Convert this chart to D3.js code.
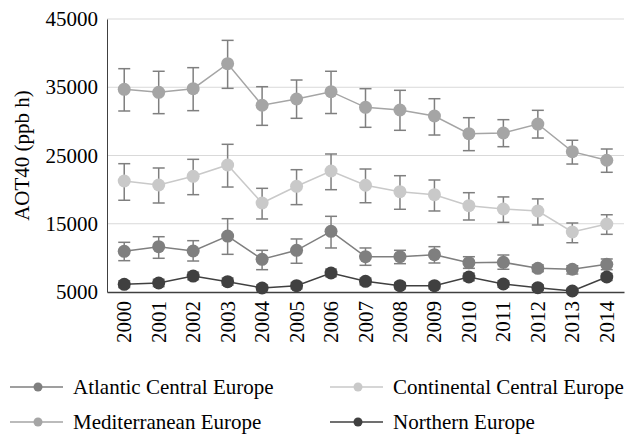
<!DOCTYPE html>
<html>
<head>
<meta charset="utf-8">
<script src="https://cdn.jsdelivr.net/npm/d3@7"></script>
</head>
<body style="margin:0">
<svg id="chart" width="630" height="435"></svg>
<script>
// years on the x axis
const years = ['2000','2001','2002','2003','2004','2005','2006','2007','2008','2009','2010','2011','2012','2013','2014']
const yTicks = [5000, 15000, 25000, 35000, 45000]

// series values (mean, upper bar, lower bar)
const atlantic = [10960, 11640, 11010, 13200, 9790, 11110, 13890, 10170, 10170, 10470, 9300, 9350, 8470, 8330, 9060]
const atlanticHi = [12280, 13100, 12520, 15740, 11110, 12770, 16090, 11450, 11110, 11640, 10170, 10420, 8960, 8850, 9840]
const atlanticLo = [9590, 9940, 9540, 10520, 8270, 9210, 11450, 8910, 9150, 9250, 8470, 8330, 7980, 7640, 8270]

const continental = [21260, 20680, 21950, 23610, 18040, 20490, 22730, 20640, 19700, 19260, 17650, 17160, 16870, 13790, 14960]
const continentalHi = [23800, 23170, 24440, 26640, 20190, 22920, 25220, 23020, 22040, 21410, 19550, 18930, 18640, 15110, 16320]
const continentalLo = [18440, 18040, 19260, 20380, 15700, 17800, 19990, 18080, 17120, 16870, 15550, 15210, 14820, 12220, 13450]

const mediterranean = [34700, 34260, 34790, 38450, 32360, 33280, 34350, 32060, 31670, 30790, 28200, 28300, 29610, 25560, 24300]
const mediterraneanHi = [37720, 37340, 37870, 41870, 35080, 36060, 37340, 34790, 34550, 33320, 30540, 30250, 31620, 27230, 25950]
const mediterraneanLo = [31520, 31130, 31570, 34840, 29420, 30450, 31150, 29130, 28690, 28000, 25710, 26290, 27560, 23750, 22540]

const northern = [6130, 6320, 7340, 6510, 5590, 5930, 7780, 6560, 5930, 5930, 7200, 6170, 5630, 5150, 7200]
const northernHi = [6650, 6850, 7900, 7050, 6050, 6400, 8350, 7050, 6400, 6400, 7750, 6650, 6050, 5550, 7700]
const northernLo = [5650, 5800, 6800, 6000, 5150, 5450, 7250, 6050, 5450, 5450, 6650, 5700, 5200, 4750, 6700]

const seriesNames = ['Atlantic Central Europe', 'Continental Central Europe', 'Mediterranean Europe', 'Northern Europe']

const series = [
  { name: seriesNames[0], values: atlantic, hi: atlanticHi, lo: atlanticLo, color: '#7f7f7f' },
  { name: seriesNames[1], values: continental, hi: continentalHi, lo: continentalLo, color: '#c9c9c9' },
  { name: seriesNames[2], values: mediterranean, hi: mediterraneanHi, lo: mediterraneanLo, color: '#a5a5a5' },
  { name: seriesNames[3], values: northern, hi: northernHi, lo: northernLo, color: '#404040' }
]

const margin = { left: 107, right: 6, top: 19, bottom: 143 }
const width = 630
const height = 435

const svg = d3.select('#chart')

const x = d3.scaleBand().domain(years).range([margin.left, width - margin.right])
const y = d3.scaleLinear().domain([5000, 45000]).range([height - margin.bottom, margin.top])
const cx = d => x(d) + x.bandwidth() / 2

// every text in the chart uses the same serif face
const serif = sel => sel
  .attr('font-size', 21)
  .style('font-family', "'Liberation Serif'")

// gridlines
svg.append('g')
  .selectAll('line')
  .data(yTicks.slice(1))
  .join('line')
  .attr('x1', margin.left)
  .attr('x2', width - margin.right)
  .attr('y1', d => y(d))
  .attr('y2', d => y(d))
  .attr('stroke', '#d9d9d9')
  .attr('stroke-width', 1)

// y axis
const yAxis = svg.append('g')
  .attr('transform', `translate(${margin.left},0)`)
  .call(d3.axisLeft(y).tickValues(yTicks).tickSize(0).tickPadding(9).tickFormat(d3.format('d')))
yAxis.attr('font-family', null).attr('font-size', null)
yAxis.select('.domain').attr('stroke', '#404040')
yAxis.selectAll('text').attr('fill', '#000').call(serif)

// x axis
const xAxis = svg.append('g')
  .attr('transform', `translate(0,${height - margin.bottom})`)
  .call(d3.axisBottom(x).tickSize(0).tickPadding(0))
xAxis.attr('font-family', null).attr('font-size', null)
xAxis.select('.domain').attr('stroke', '#404040').attr('stroke-width', 1.5)
xAxis.selectAll('text')
  .attr('fill', '#000')
  .attr('text-anchor', 'end')
  .attr('dy', null)
  .attr('transform', 'translate(0,9) rotate(-90)')
  .attr('x', 0)
  .attr('y', 0)
  .attr('dominant-baseline', 'central')
  .call(serif)

// axis title
svg.append('text')
  .attr('transform', `translate(22,${(margin.top + height - margin.bottom) / 2}) rotate(-90)`)
  .attr('text-anchor', 'middle')
  .attr('dominant-baseline', 'central')
  .call(serif)
  .text('AOT40 (ppb h)')

const line = d3.line().x((d, i) => cx(years[i])).y(d => y(d))

series.forEach(s => {
  const g = svg.append('g')

  g.append('path')
    .datum(s.values)
    .attr('d', line)
    .attr('fill', 'none')
    .attr('stroke', s.color)
    .attr('stroke-width', 1.5)

  // error bars
  const bars = g.append('g').selectAll('g')
    .data(years)
    .join('g')
  bars.append('line')
    .attr('x1', d => cx(d)).attr('x2', d => cx(d))
    .attr('y1', (d, i) => y(s.hi[i])).attr('y2', (d, i) => y(s.lo[i]))
    .attr('stroke', '#7f7f7f').attr('stroke-width', 1.5)
  bars.append('line')
    .attr('x1', d => cx(d) - 6).attr('x2', d => cx(d) + 6)
    .attr('y1', (d, i) => y(s.hi[i])).attr('y2', (d, i) => y(s.hi[i]))
    .attr('stroke', '#7f7f7f').attr('stroke-width', 1.5)
  bars.append('line')
    .attr('x1', d => cx(d) - 6).attr('x2', d => cx(d) + 6)
    .attr('y1', (d, i) => y(s.lo[i])).attr('y2', (d, i) => y(s.lo[i]))
    .attr('stroke', '#7f7f7f').attr('stroke-width', 1.5)

  g.append('g').selectAll('circle')
    .data(s.values)
    .join('circle')
    .attr('cx', (d, i) => cx(years[i]))
    .attr('cy', d => y(d))
    .attr('r', 6.5)
    .attr('fill', s.color)
})

// legend
const legendPos = [[10, 387], [330, 387], [10, 422], [330, 422]]
const legend = svg.append('g')
  .selectAll('g')
  .data(series)
  .join('g')
  .attr('transform', (d, i) => `translate(${legendPos[i][0]},${legendPos[i][1]})`)
legend.append('line')
  .attr('x1', 0).attr('x2', 53)
  .attr('stroke', d => d.color).attr('stroke-width', 1.5)
legend.append('circle')
  .attr('cx', 28).attr('r', 4.5)
  .attr('fill', d => d.color)
legend.append('text')
  .attr('x', 63)
  .attr('dominant-baseline', 'central')
  .call(serif)
  .text(d => d.name)
</script>
</body>
</html>
